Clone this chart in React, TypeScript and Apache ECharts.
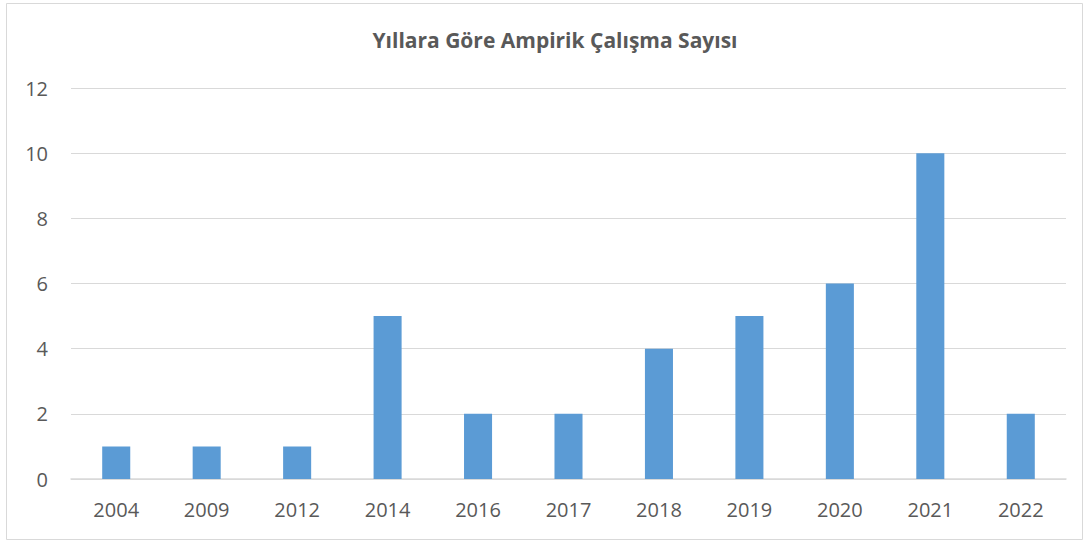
import React, { useEffect, useRef } from "react";
import * as echarts from "echarts";

const years = ["2004", "2009", "2012", "2014", "2016", "2017", "2018", "2019", "2020", "2021", "2022"];
const counts = [1, 1, 1, 5, 2, 2, 4, 5, 6, 10, 2];
const titleText = "Yıllara Göre Ampirik Çalışma Sayısı";

export default function App() {
  const ref = useRef<HTMLDivElement>(null);
  useEffect(() => {
    const chart = echarts.init(ref.current!, null, { renderer: "svg" });
    chart.setOption({
      animation: false,
      backgroundColor: "#ffffff",
      title: {
        text: titleText,
        left: 550,
        textAlign: "center",
        top: 24,
        textStyle: { fontFamily: "Open Sans", fontSize: 21, fontWeight: "bold", color: "#595959" },
      },
      graphic: [
        {
          type: "rect",
          shape: { x: 6.5, y: 3.5, width: 1076, height: 536 },
          style: { fill: "none", stroke: "#d9d9d9", lineWidth: 1 },
          silent: true,
        },
      ],
      grid: { left: 71, right: 22, top: 88, bottom: 63, containLabel: false },
      xAxis: {
        type: "category",
        data: years,
        axisLine: { show: true, lineStyle: { color: "#d9d9d9", width: 1.5 } },
        axisTick: { show: false },
        axisLabel: { color: "#595959", fontSize: 20, fontFamily: "Open Sans", margin: 20 },
      },
      yAxis: {
        type: "value",
        min: 0,
        max: 12,
        interval: 2,
        axisLine: { show: false },
        axisTick: { show: false },
        splitLine: { lineStyle: { color: "#d9d9d9", width: 1 } },
        axisLabel: { color: "#595959", fontSize: 20, fontFamily: "Open Sans", margin: 23 },
      },
      series: [
        {
          type: "bar",
          data: counts,
          barWidth: "31%",
          itemStyle: { color: "#5b9bd5" },
        },
      ],
    });
    return () => chart.dispose();
  }, []);
  return (
    <div
      ref={ref}
      style={{ position: "fixed", left: 0, top: 0, width: 1088, height: 542 }}
    />
  );
}
